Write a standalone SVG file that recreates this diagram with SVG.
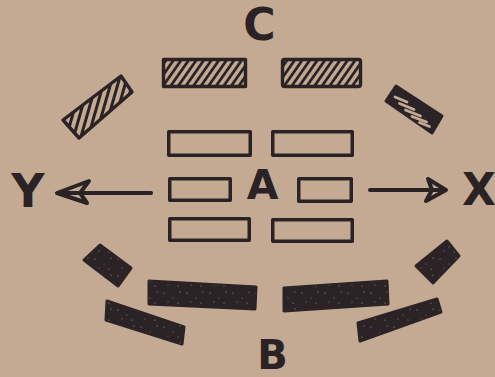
<svg xmlns="http://www.w3.org/2000/svg" width="495" height="377" viewBox="0 0 495 377">
  <defs>
    <pattern id="hatchTop" patternUnits="userSpaceOnUse" width="6.2" height="10" patternTransform="rotate(35)">
      <line x1="3.1" y1="-2" x2="3.1" y2="12" stroke="#2a2224" stroke-width="2.8"/>
    </pattern>
    <pattern id="hatchLeft" patternUnits="userSpaceOnUse" width="7" height="10" patternTransform="rotate(16)">
      <line x1="3.5" y1="-2" x2="3.5" y2="12" stroke="#2a2224" stroke-width="3"/>
    </pattern>
    <pattern id="speckle" patternUnits="userSpaceOnUse" width="23" height="17">
      <circle cx="3" cy="4" r="0.6" fill="#a49690"/>
      <circle cx="12" cy="9" r="0.5" fill="#968a86"/>
      <circle cx="19" cy="3" r="0.6" fill="#a89890"/>
      <circle cx="7" cy="13" r="0.5" fill="#9b8d88"/>
      <circle cx="17" cy="14" r="0.6" fill="#a2938c"/>
    </pattern>
  </defs>
  <style>
    .ink { fill: #2a2224; }
    .outline { fill: none; stroke: #2a2224; stroke-width: 3.5; stroke-linejoin: round; }
    .hatched { stroke: #2a2224; stroke-width: 3.4; stroke-linejoin: round; }
    .solid { fill: #2b2326; stroke: #2b2326; stroke-width: 3; stroke-linejoin: round; }
    .speck { fill: url(#speckle); }
    .gap { stroke: #c4aa93; stroke-width: 2.8; stroke-linecap: round; fill: none; }
    .label { font-family: "DejaVu Sans", "Liberation Sans", sans-serif; font-weight: bold; fill: #2a2224; text-anchor: middle; }
    .conn { fill: none; stroke: #2a2224; stroke-width: 4; stroke-linecap: round; stroke-linejoin: round; }
  </style>
  <rect x="0" y="0" width="495" height="377" fill="#c4aa93"/>

  <g id="label-C"><text class="label" x="259.5" y="40" font-size="44">C</text></g>
  <g id="label-A"><text class="label" x="262.5" y="199" font-size="41">A</text></g>
  <g id="label-B"><text class="label" x="272.5" y="369" font-size="40">B</text></g>
  <g id="label-Y"><text class="label" x="28" y="207" font-size="46">Y</text></g>
  <g id="label-X"><text class="label" x="479" y="205" font-size="44">X</text></g>

  <!-- C hatched blocks -->
  <g id="c-top-left"><rect class="hatched" x="163.5" y="59.5" width="82" height="27" fill="url(#hatchTop)"/></g>
  <g id="c-top-right"><rect class="hatched" x="282.5" y="59.5" width="78" height="27" rx="2" fill="url(#hatchTop)"/></g>
  <g id="c-side-left"><polygon class="hatched" points="63,120 121,76 132,92 79,138" fill="url(#hatchLeft)"/></g>
  <g id="c-side-right">
    <polygon class="solid" points="386,101 396,86 442,116 432,133"/>
    <line class="gap" x1="395" y1="97" x2="407" y2="102"/>
    <line class="gap" x1="399.5" y1="103.5" x2="414" y2="109.5"/>
    <line class="gap" x1="405.5" y1="110" x2="420.5" y2="116"/>
    <line class="gap" x1="412" y1="116.5" x2="426.5" y2="122"/>
    <line class="gap" x1="419.5" y1="122.5" x2="429.5" y2="126.5"/>
  </g>

  <!-- A outlined blocks -->
  <g id="a-row1-left"><rect class="outline" x="168.75" y="131.75" width="81.5" height="23.5"/></g>
  <g id="a-row1-right"><rect class="outline" x="272.75" y="131.75" width="79.5" height="23.5"/></g>
  <g id="a-row2-left"><rect class="outline" x="169.75" y="178.75" width="60.5" height="21.5"/></g>
  <g id="a-row2-right"><rect class="outline" x="298.75" y="178.75" width="52.5" height="22.5"/></g>
  <g id="a-row3-left"><rect class="outline" x="169.75" y="218.75" width="79.5" height="21.5"/></g>
  <g id="a-row3-right"><rect class="outline" x="272.75" y="219.75" width="79.5" height="21.5"/></g>

  <!-- B solid blocks -->
  <g id="b-side-left-upper"><polygon class="solid" points="84,260 100,245 131,268 118,286"/><polygon class="speck" points="84,260 100,245 131,268 118,286"/></g>
  <g id="b-side-left-lower"><polygon class="solid" points="107,301 184,327 182,344 106,320"/><polygon class="speck" points="107,301 184,327 182,344 106,320"/></g>
  <g id="b-center-left"><polygon class="solid" points="149,281 256,287 255,309 149,304"/><polygon class="speck" points="149,281 256,287 255,309 149,304"/></g>
  <g id="b-center-right"><polygon class="solid" points="284,288 387,281 388,304 284,311"/><polygon class="speck" points="284,288 387,281 388,304 284,311"/></g>
  <g id="b-side-right-lower"><polygon class="solid" points="358,323 437,299 441,312 360,341"/><polygon class="speck" points="358,323 437,299 441,312 360,341"/></g>
  <g id="b-side-right-upper"><polygon class="solid" points="416,266 447,241 459,256 433,283"/><polygon class="speck" points="416,266 447,241 459,256 433,283"/></g>

  <!-- connectors -->
  <g id="connectors">
    <g id="arrow-A-Y">
      <line class="conn" x1="151" y1="193" x2="58" y2="193"/>
      <polygon class="conn ink" points="89,181 57,193 87,203 80,193"/>
    </g>
    <g id="arrow-A-X">
      <line class="conn" x1="370" y1="190" x2="444" y2="190"/>
      <polygon class="conn ink" points="428,179 446,190 426,201 432,190"/>
    </g>
  </g>
</svg>
